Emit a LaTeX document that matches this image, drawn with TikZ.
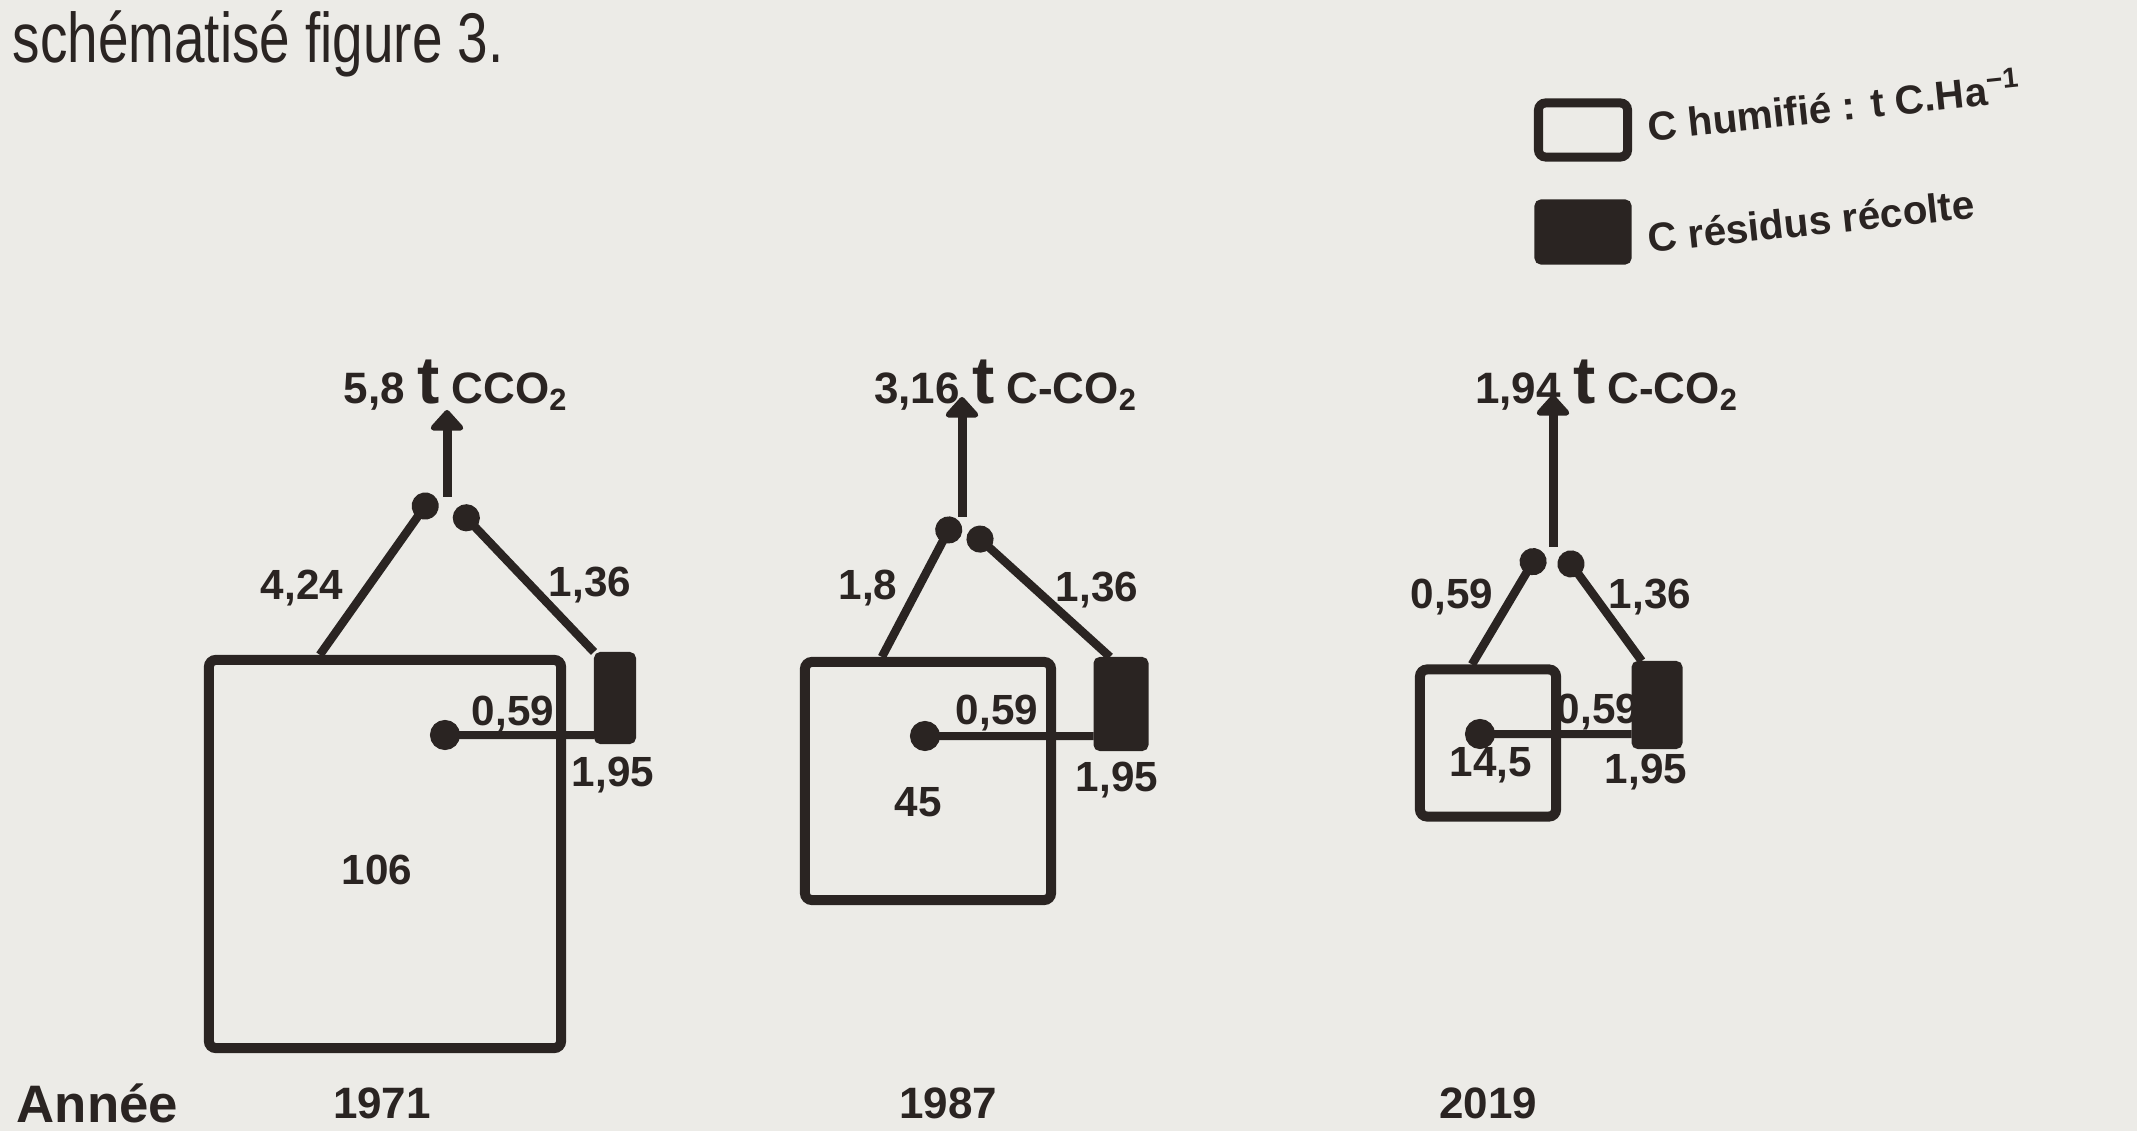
\documentclass[tikz,border=0pt]{standalone}
\usepackage{fontspec}
\setmainfont{Liberation Sans}
\usetikzlibrary{arrows.meta, calc}
\definecolor{paper}{RGB}{236,235,231}
\definecolor{ink}{RGB}{42,36,34}
\newcommand{\tunit}{{\fontsize{19}{19}\selectfont t}}

\begin{document}
\begin{tikzpicture}[
    x=0.01cm, y=-0.01cm,
    humus/.style={rectangle, draw=ink, line width=0.1cm, rounded corners=2pt, inner sep=0pt},
    residue/.style={rectangle, draw=ink, fill=ink, line width=0.02cm, rounded corners=1.5pt, inner sep=0pt},
    flux/.style={draw=ink, line width=0.085cm, -{Circle[length=0.27cm]}},
    loss/.style={draw=ink, line width=0.09cm, -{Triangle[length=0.22cm, width=0.38cm, round]}},
    recycle/.style={draw=ink, line width=0.08cm, -{Circle[length=0.3cm]}},
    num/.style={font=\fontsize{12}{14}\selectfont\bfseries, text=ink, inner sep=0pt},
    co2/.style={font=\fontsize{12.5}{14}\selectfont\bfseries, text=ink, inner sep=0pt},
    year/.style={font=\fontsize{12.5}{14}\selectfont\bfseries, text=ink, inner sep=0pt},
    legtext/.style={font=\fontsize{11.5}{13}\selectfont\bfseries, text=ink, inner sep=0pt, anchor=west, rotate=6}
]

% Paper
\fill[paper] (0,0) rectangle (2137,1131);
\useasboundingbox (0,0) rectangle (2137,1131);

% Caption line from the page
\node[anchor=base west, inner sep=0pt, text=ink, font=\fontsize{20}{24}\selectfont] (caption) at (12,63) {\scalebox{0.78}[1]{schématisé figure 3.}};

% Legend
\node[humus, line width=0.09cm, minimum width=0.89cm, minimum height=0.54cm] (legH) at (1583,130) {};
\node[residue, minimum width=0.95cm, minimum height=0.63cm] (legR) at (1583,232) {};
\node[legtext] (legHtext) at (1647,124) {C humifié : t C.Ha\textsuperscript{−1}};
\node[legtext] (legRtext) at (1647,238) {C résidus récolte};

% 1971
\node[humus, minimum width=3.52cm, minimum height=3.88cm] (H1) at (385,854) {};
\node[residue, minimum width=0.40cm, minimum height=0.90cm] (R1) at (615,698) {};
\coordinate (J1) at (447,497);
\coordinate (T1) at (447,410);
\coordinate (A1) at (433,495);
\coordinate (B1) at (457,508);
\coordinate (C1) at (430,735);
\draw[loss] (J1) -- (T1);
\draw[flux] ($(H1.north west)!0.32!(H1.north east)$) -- (A1);
\draw[flux] (R1.north west) -- (B1);
\draw[recycle] ([yshift=-0.37cm]R1.west) -- (C1);
\node[co2] (co2a) at (456,385) {5,8 \tunit{} CCO\textsubscript{2}};
\node[num] (in1) at (302,588) {4,24};
\node[num] (res1) at (590,585) {1,36};
\node[num] (back1) at (513,714) {0,59};
\node[num] (tot1) at (613,775) {1,95};
\node[num] (stock1) at (377,870) {106};

% 1987
\node[humus, minimum width=2.46cm, minimum height=2.38cm] (H2) at (928,781) {};
\node[residue, minimum width=0.53cm, minimum height=0.92cm] (R2) at (1121,704) {};
\coordinate (J2) at (962,517);
\coordinate (T2) at (962,397);
\coordinate (A2) at (955,518);
\coordinate (B2) at (970,530);
\coordinate (C2) at (910,736);
\draw[loss] (J2) -- (T2);
\draw[flux] ($(H2.north west)!0.32!(H2.north east)$) -- (A2);
\draw[flux] ($(R2.north west)!0.3!(R2.north east)$) -- (B2);
\draw[recycle] ([yshift=-0.32cm]R2.west) -- (C2);
\node[co2] (co2b) at (1006,385) {3,16 \tunit{} C-CO\textsubscript{2}};
\node[num] (in2) at (868,588) {1,8};
\node[num] (res2) at (1097,590) {1,36};
\node[num] (back2) at (997,713) {0,59};
\node[num] (tot2) at (1117,780) {1,95};
\node[num] (stock2) at (918,802) {45};

% 2019
\node[humus, minimum width=1.36cm, minimum height=1.47cm] (H3) at (1488,743) {};
\node[residue, minimum width=0.49cm, minimum height=0.86cm] (R3) at (1657,705) {};
\coordinate (J3) at (1553,547);
\coordinate (T3) at (1553,395);
\coordinate (A3) at (1540,550);
\coordinate (B3) at (1563,553);
\coordinate (C3) at (1465,734);
\draw[loss] (J3) -- (T3);
\draw[flux] ($(H3.north west)!0.39!(H3.north east)$) -- (A3);
\draw[flux] ($(R3.north west)!0.2!(R3.north east)$) -- (B3);
\draw[recycle] ([yshift=-0.29cm]R3.west) -- (C3);
\node[co2] (co2c) at (1607,385) {1,94 \tunit{} C-CO\textsubscript{2}};
\node[num] (in3) at (1452,597) {0,59};
\node[num] (res3) at (1650,597) {1,36};
\node[num] (back3) at (1598,712) {0,59};
\node[num] (tot3) at (1646,772) {1,95};
\node[num] (stock3) at (1491,765) {14,5};

% Years
\node[anchor=base west, inner sep=0pt, text=ink, font=\fontsize{15}{18}\selectfont\bfseries] (annee) at (16,1122) {Année};
\node[year] (y1) at (382,1103) {1971};
\node[year] (y2) at (948,1103) {1987};
\node[year] (y3) at (1488,1103) {2019};

\end{tikzpicture}
\end{document}
